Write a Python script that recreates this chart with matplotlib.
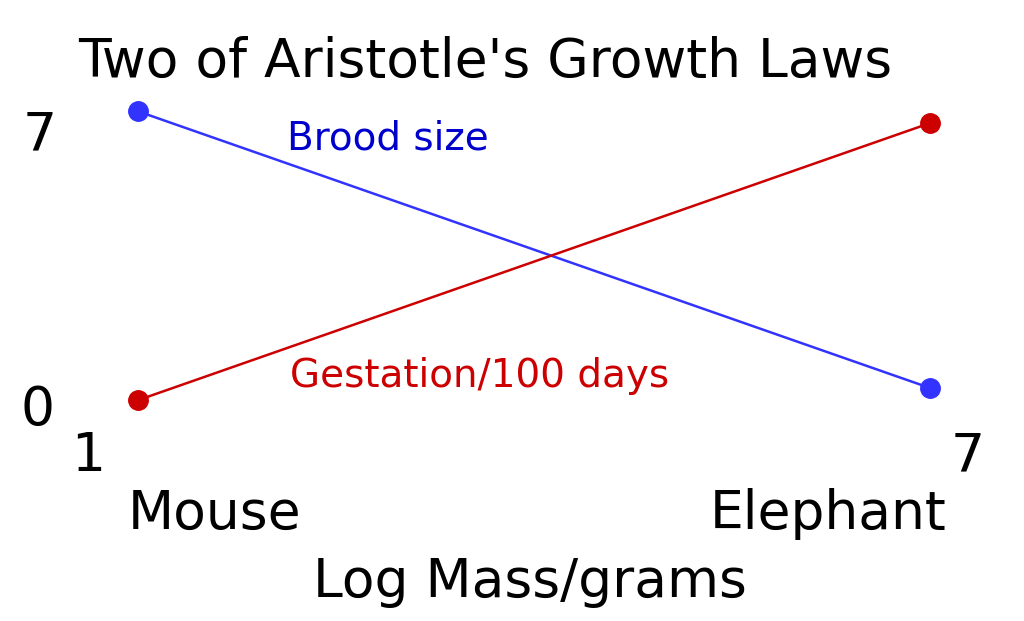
import matplotlib
matplotlib.use("Agg")
import matplotlib.pyplot as plt

# log mass (grams), endpoints
animals = ["Mouse", "Elephant"]
log_mass = [1, 7]
brood_size = [7.6, 0.56]
gestation = [0.25, 7.3]

W, H = 1024, 621
fig = plt.figure(figsize=(W / 100, H / 100), dpi=100)
ax = fig.add_axes([0, 0, 1, 1])
ax.set_xlim(1 - 138 / 132, 1 + 886 / 132)
ax.set_ylim((410 - 621) / 39.3, 410 / 39.3)
ax.axis("off")

ax.plot(log_mass, brood_size, color="#3333ff", lw=1.8, marker="o", ms=14)
ax.plot(log_mass, gestation, color="#cc0000", lw=1.8, marker="o", ms=14)


def px(x, y):
    return x / W, 1 - y / H


fs = 38.5
fig.text(*px(485, 62), "Two of Aristotle's Growth Laws", fontsize=fs, ha="center", va="center")
fig.text(*px(388, 138), "Brood size", fontsize=28, color="#0000cc", ha="center", va="center")
fig.text(*px(480, 376), "Gestation/100 days", fontsize=28, color="#cc0000", ha="center", va="center")
fig.text(*px(40, 135), "7", fontsize=fs, ha="center", va="center")
fig.text(*px(38, 410), "0", fontsize=fs, ha="center", va="center")
fig.text(*px(88, 456), "1", fontsize=fs, ha="center", va="center")
fig.text(*px(968, 456), "7", fontsize=fs, ha="center", va="center")
fig.text(*px(215, 514), animals[0], fontsize=fs, ha="center", va="center")
fig.text(*px(828, 514), animals[1], fontsize=fs, ha="center", va="center")
fig.text(*px(530, 582), "Log Mass/grams", fontsize=fs, ha="center", va="center")

fig.savefig("out.png", dpi=100)
